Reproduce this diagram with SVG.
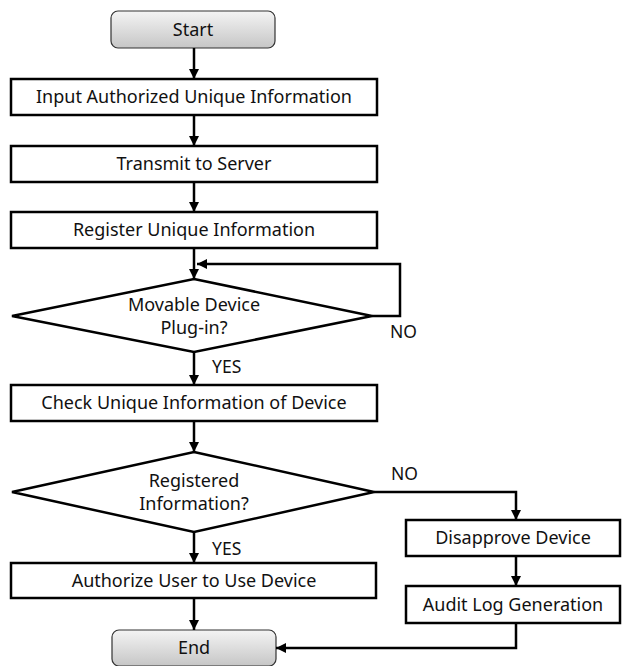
<svg xmlns="http://www.w3.org/2000/svg" width="624" height="666" viewBox="0 0 624 666">
<defs>
<linearGradient id="g" x1="0" y1="0" x2="0" y2="1">
<stop offset="0" stop-color="#f4f4f4"/>
<stop offset="1" stop-color="#c6c6c6"/>
</linearGradient>
<marker id="ah" viewBox="0 0 10 10" refX="10" refY="5" markerWidth="4" markerHeight="4" orient="auto" markerUnits="strokeWidth">
<path d="M0,0 L10,5 L0,10 z" fill="#000"/>
</marker>
<style>
.box{fill:#fff;stroke:#000;stroke-width:2.5}
.term{fill:url(#g);stroke:#333;stroke-width:1.2}
.t{font-family:"Noto Sans","Open Sans",sans-serif;font-size:18px;fill:#111;text-anchor:middle}
.lbl{font-family:"Noto Sans","Open Sans",sans-serif;font-size:17.5px;fill:#111}
.c{fill:none;stroke:#000;stroke-width:2.5;marker-end:url(#ah)}
</style>
</defs>
<g id="start"><rect class="term" x="111" y="11" width="164" height="37" rx="7"/><text class="t" x="193" y="36">Start</text></g>
<g id="input"><rect class="box" x="11" y="79" width="366" height="36"/><text class="t" x="194" y="103">Input Authorized Unique Information</text></g>
<g id="transmit"><rect class="box" x="11" y="146" width="366" height="36"/><text class="t" x="194" y="170">Transmit to Server</text></g>
<g id="register"><rect class="box" x="11" y="212" width="366" height="36"/><text class="t" x="194" y="236">Register Unique Information</text></g>
<g id="plugin"><polygon class="box" points="194,279 372,316 194,352 12,316"/><text class="t" x="194" y="311">Movable Device</text><text class="t" x="194" y="334">Plug-in?</text></g>
<g id="check"><rect class="box" x="11" y="385" width="366" height="36"/><text class="t" x="194" y="409">Check Unique Information of Device</text></g>
<g id="registered"><polygon class="box" points="194,452 374,492 194,532 12,492"/><text class="t" x="194" y="487">Registered</text><text class="t" x="194" y="510">Information?</text></g>
<g id="authorize"><rect class="box" x="11" y="563" width="365" height="35"/><text class="t" x="194" y="587">Authorize User to Use Device</text></g>
<g id="disapprove"><rect class="box" x="406" y="520" width="214" height="36"/><text class="t" x="513" y="544">Disapprove Device</text></g>
<g id="audit"><rect class="box" x="406" y="586" width="214" height="37"/><text class="t" x="513" y="611">Audit Log Generation</text></g>
<g id="end"><rect class="term" x="112" y="630" width="164" height="36" rx="7"/><text class="t" x="194" y="654">End</text></g>
<g id="connectors">
<path class="c" d="M194,48 V79"/>
<path class="c" d="M194,115 V146"/>
<path class="c" d="M194,182 V212"/>
<path class="c" d="M194,248 V279"/>
<path class="c" d="M372,316 H400 V264 H197"/>
<path class="c" d="M194,352 V385"/>
<path class="c" d="M194,421 V452"/>
<path class="c" d="M374,492 H516 V520"/>
<path class="c" d="M194,532 V563"/>
<path class="c" d="M516,556 V586"/>
<path class="c" d="M194,598 V630"/>
<path class="c" d="M516,623 V648 H276"/>
<text class="lbl" x="390" y="338">NO</text>
<text class="lbl" x="212" y="373">YES</text>
<text class="lbl" x="391" y="480">NO</text>
<text class="lbl" x="212" y="555">YES</text>
</g>
</svg>
